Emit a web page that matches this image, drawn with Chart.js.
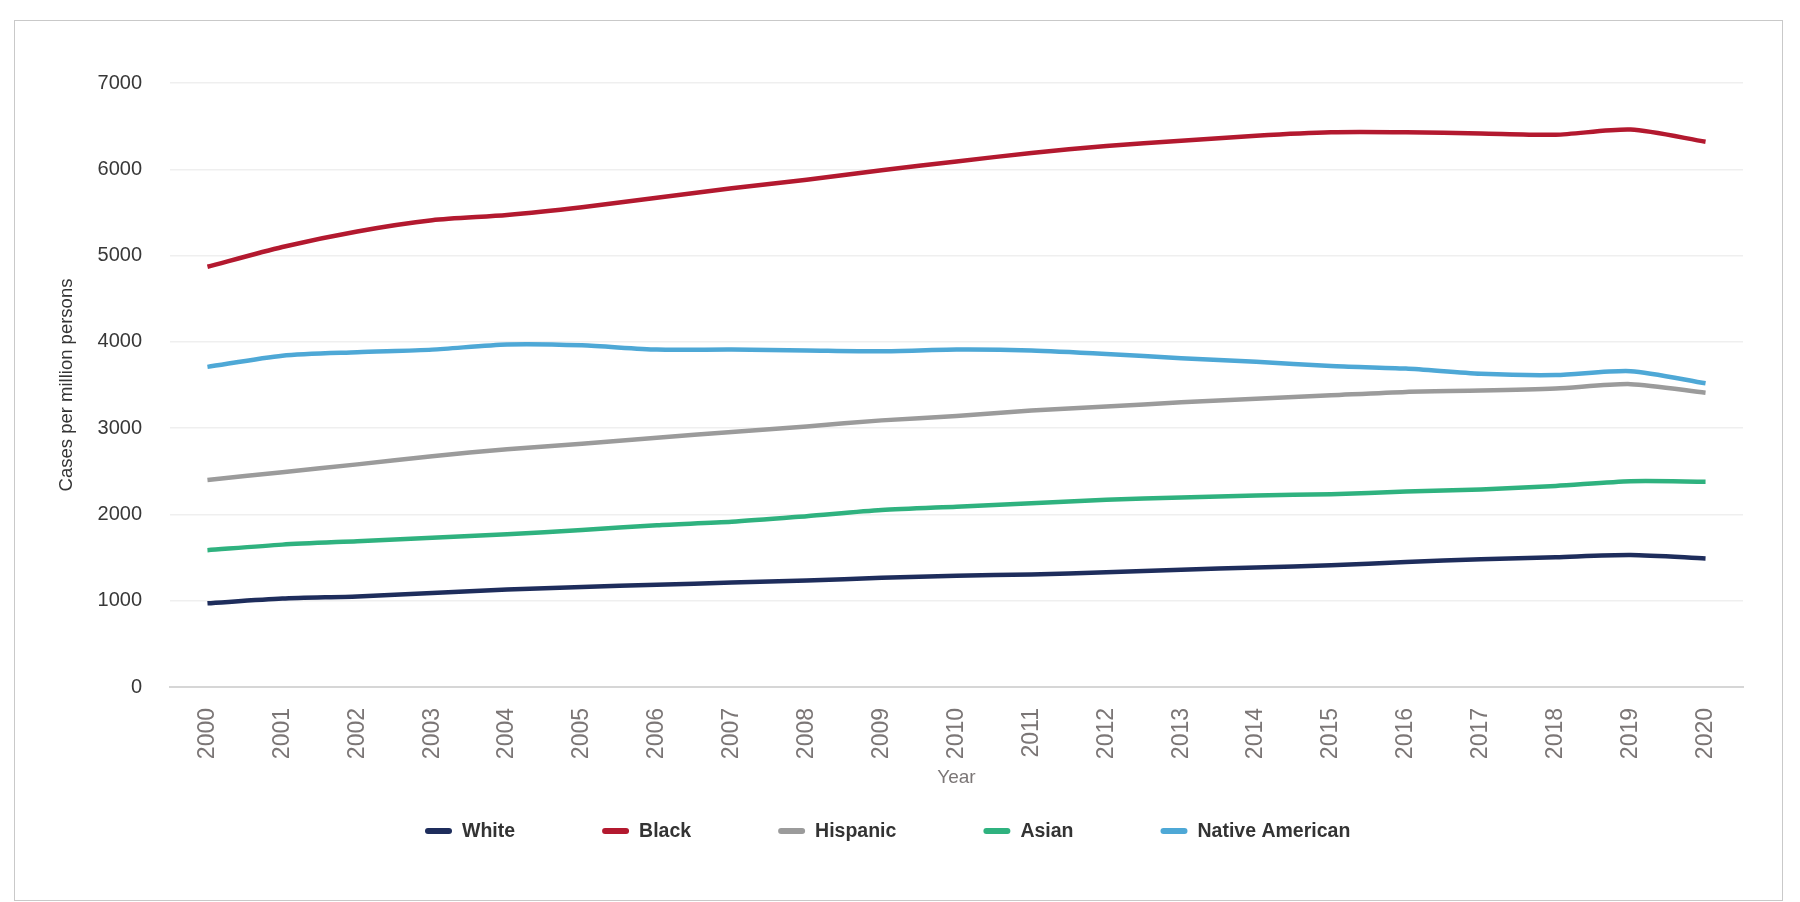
<!DOCTYPE html>
<html><head><meta charset="utf-8">
<script src="https://cdn.jsdelivr.net/npm/chart.js@4/dist/chart.umd.min.js"></script>
<style>
html,body{margin:0;padding:0;background:#fff;}
#wrap{position:relative;width:1800px;height:902px;overflow:hidden;}
#frame{position:absolute;left:14px;top:20px;width:1769px;height:881px;border:1.5px solid #c9c9c9;box-sizing:border-box;}
canvas{position:absolute;left:0;top:0;}
</style></head><body>
<div id="wrap"><div id="frame"></div><canvas id="c" width="1800" height="902"></canvas></div>
<script>
const years = ['2000','2001','2002','2003','2004','2005','2006','2007','2008','2009','2010','2011','2012','2013','2014','2015','2016','2017','2018','2019','2020'];
const white    = [970,1025,1050,1090,1130,1160,1185,1210,1235,1265,1290,1305,1330,1360,1385,1410,1450,1480,1505,1530,1490];
const black    = [4870,5100,5280,5410,5470,5560,5670,5780,5880,5990,6090,6190,6270,6330,6390,6430,6430,6415,6400,6460,6320];
const hispanic = [2400,2490,2580,2675,2755,2820,2890,2955,3020,3090,3140,3205,3250,3300,3340,3380,3420,3435,3460,3510,3410];
const asian    = [1585,1650,1690,1730,1770,1820,1875,1915,1980,2050,2090,2130,2170,2195,2220,2235,2265,2290,2330,2385,2380];
const nativeAm = [3710,3840,3880,3910,3970,3960,3910,3910,3900,3890,3910,3900,3860,3810,3770,3720,3690,3630,3615,3660,3520];
const seriesNames = ['White','Black','Hispanic','Asian','Native American'];
const yTicks = [0,1000,2000,3000,4000,5000,6000,7000];

const colors = ['#1e2d5c','#b3192f','#9b9b9b','#2fb27f','#4ea8d6'];
const FONT = '"Liberation Sans", Arial, Helvetica, sans-serif';

const fixedLegend = {
  id: 'fixedLegend',
  afterDraw(chart) {
    const ctx = chart.ctx;
    ctx.save();
    ctx.font = 'bold 19.5px ' + FONT;
    ctx.textBaseline = 'middle';
    ctx.textAlign = 'left';
    let x = 425;
    const y = 831;
    chart.data.datasets.forEach((ds) => {
      ctx.strokeStyle = ds.borderColor;
      ctx.lineWidth = 6;
      ctx.lineCap = 'round';
      ctx.beginPath(); ctx.moveTo(x + 3, y); ctx.lineTo(x + 24, y); ctx.stroke();
      ctx.fillStyle = '#333';
      ctx.fillText(ds.label, x + 37, y + 1);
      x += 37 + ctx.measureText(ds.label).width + 87;
    });
    ctx.restore();
  }
};

const dataSets = [white, black, hispanic, asian, nativeAm].map((d, i) => ({
  label: seriesNames[i],
  data: d,
  borderColor: colors[i],
  backgroundColor: colors[i],
  borderWidth: 4.5,
  pointRadius: 0,
  tension: 0.25,
  fill: false
}));

new Chart(document.getElementById('c'), {
  type: 'line',
  data: { labels: years, datasets: dataSets },
  plugins: [fixedLegend],
  options: {
    responsive: false,
    devicePixelRatio: 1,
    animation: false,
    layout: { padding: { top: 83, right: 57, bottom: 105, left: 0 } },
    plugins: { legend: { display: false }, tooltip: { enabled: false } },
    scales: {
      x: {
        offset: true,
        grid: { display: false, drawTicks: false },
        border: { display: true, color: '#d6d6d6', width: 2 },
        ticks: { autoSkip: false, minRotation: 90, maxRotation: 90, padding: 21, color: '#7b7676', font: { family: FONT, size: 23 } },
        title: { display: true, text: 'Year', color: '#7b7676', font: { family: FONT, size: 19 }, padding: { top: 0, bottom: 8 } },
        afterFit(scale) { scale.height = 110; }
      },
      y: {
        min: 0, max: 7000,
        afterBuildTicks(scale) { scale.ticks = yTicks.map(v => ({ value: v })); },
        grid: { color: ctx => ctx.tick && ctx.tick.value === 0 ? '#d6d6d6' : '#efefef', lineWidth: 1.5, drawTicks: false },
        border: { display: false },
        ticks: { padding: 28, color: '#383838', font: { family: FONT, size: 20 }, callback: v => String(v) },
        title: { display: true, text: 'Cases per million persons', color: '#333', font: { family: FONT, size: 18.5 }, padding: { top: 56, bottom: 0 } },
        afterFit(scale) { scale.width = 170; }
      }
    }
  }
});
</script>
</body></html>
